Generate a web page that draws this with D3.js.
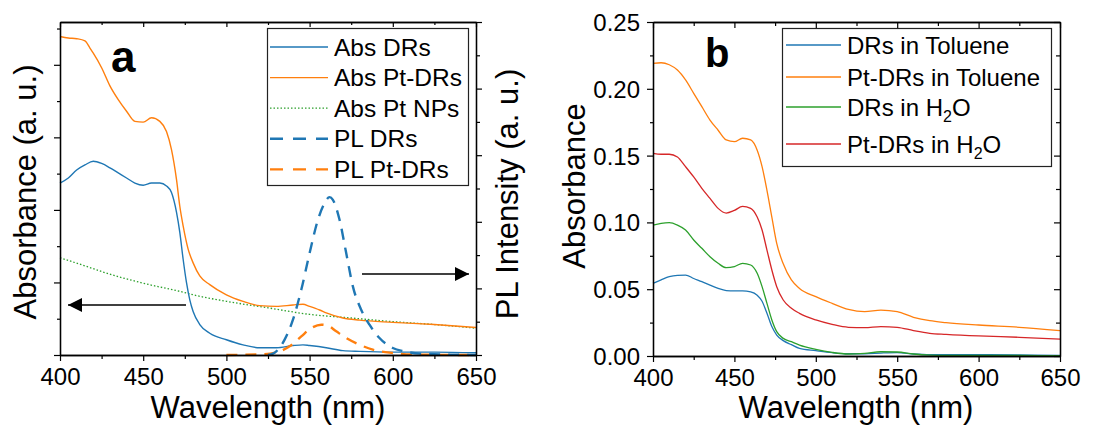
<!DOCTYPE html>
<html>
<head>
<meta charset="utf-8">
<script src="https://cdn.jsdelivr.net/npm/d3@7"></script>
<style>
  body { margin: 0; background: #fff; }
  svg text { font-family: "Liberation Sans", Arial, sans-serif; fill: #000; }
</style>
</head>
<body>
<svg id="fig" width="1093" height="430"></svg>
<script>
// ---- panel a data (left axis = absorbance a.u., right axis = PL a.u.) ----
const absDRsWl   = [400,405,410,415,420,425,430,435,440,445,450,455,460,464,467,470,472,474,476,478,480,484,490,500,510,520,530,540,546,550,560,570,580,600,625,650];
const absDRs     = [2.37,2.44,2.55,2.62,2.67,2.64,2.58,2.51,2.44,2.37,2.34,2.37,2.37,2.33,2.24,1.97,1.69,1.32,1.00,0.76,0.60,0.42,0.30,0.21,0.14,0.10,0.10,0.13,0.14,0.13,0.10,0.06,0.05,0.04,0.04,0.03];
const absPtDRsWl = [400,405,410,415,418,420,425,430,435,440,445,450,455,460,464,467,470,472,474,477,480,484,490,500,510,520,530,540,546,550,556,560,570,580,600,625,650];
const absPtDRs   = [4.39,4.37,4.36,4.33,4.23,4.16,3.96,3.71,3.52,3.36,3.22,3.21,3.27,3.22,3.08,2.83,2.42,2.05,1.78,1.46,1.27,1.09,0.97,0.83,0.74,0.68,0.67,0.69,0.70,0.67,0.62,0.58,0.51,0.48,0.45,0.42,0.38];
const absPtWl    = [400,420,425,450,475,480,500,525,550,575,600,625,650];
const absPt      = [1.34,1.19,1.15,0.99,0.86,0.83,0.74,0.65,0.56,0.51,0.46,0.42,0.37];
const plDRsWl    = [525,528,530,535,540,545,550,555,559,562,564,568,572,576,581,586,592,600,607,616,650];
const plDRs      = [0,0.02,0.055,0.23,0.53,0.98,1.53,2.03,2.28,2.37,2.33,2.03,1.53,1.03,0.68,0.455,0.255,0.105,0.055,0.02,0];
const plPtDRsWl  = [500,520,530,538,545,551,557,561,566,572,580,588,600,616,650];
const plPtDRs    = [0,0.01,0.04,0.13,0.28,0.405,0.455,0.44,0.355,0.255,0.155,0.08,0.03,0.005,0];

// ---- panel b data ----
const bWl      = [400,405,410,415,420,425,430,435,440,445,450,455,460,464,467,470,473,476,480,485,490,500,510,520,530,540,550,560,570,580,600,625,650];
const drsTol   = [0.0544,0.057,0.0594,0.0604,0.0606,0.058,0.0556,0.053,0.0506,0.049,0.0487,0.0487,0.048,0.0455,0.041,0.032,0.022,0.0157,0.0115,0.0085,0.0057,0.004,0.0025,0.0017,0.0017,0.0022,0.0025,0.0015,0.001,0.001,0.001,0.0008,0.0005];
const ptDrsTol = [0.219,0.2195,0.218,0.214,0.2066,0.1966,0.1866,0.1766,0.169,0.1617,0.1604,0.163,0.1617,0.154,0.1417,0.124,0.104,0.0843,0.069,0.0569,0.0506,0.0444,0.0394,0.0349,0.0332,0.0344,0.0332,0.029,0.0264,0.025,0.0232,0.0215,0.019];
const drsH2O   = [0.098,0.0993,0.0998,0.098,0.0943,0.0868,0.0806,0.0743,0.0694,0.0661,0.0669,0.0694,0.0681,0.0619,0.0519,0.0394,0.027,0.0182,0.0132,0.0107,0.0082,0.005,0.0027,0.0015,0.002,0.0032,0.003,0.0015,0.0007,0.0005,0.0005,0.0004,0.0003];
const ptDrsH2O = [0.1517,0.151,0.151,0.149,0.1417,0.134,0.1255,0.118,0.1105,0.107,0.109,0.112,0.1105,0.104,0.0943,0.0793,0.0644,0.0519,0.0419,0.0357,0.0319,0.027,0.0237,0.0215,0.0212,0.022,0.0215,0.019,0.017,0.0162,0.015,0.014,0.0127];

const xTicks = [400,450,500,550,600,650];
const xMinor = [425,475,525,575,625];
const bYTicks = [0,0.05,0.10,0.15,0.20,0.25];
const bYMinor = [0.025,0.075,0.125,0.175,0.225];

const C = {blue: "#1f77b4", orange: "#ff7f0e", green: "#2ca02c", red: "#d62728"};
const svg = d3.select("#fig");

function axis(g, gen, vals, size, fmt) {
  const a = gen.tickValues(vals).tickSize(size).tickSizeOuter(0);
  if (fmt) a.tickFormat(fmt).tickPadding(7); else a.tickFormat("");
  g.call(a);
  g.selectAll("path.domain").attr("stroke", "#000").attr("stroke-width", 1.3);
  g.selectAll(".tick line").attr("stroke", "#000").attr("stroke-width", 1.2);
  g.selectAll(".tick text").style("font-size", "24px").attr("font-family", null);
  g.attr("font-family", null).attr("font-size", null);
}

function curve(g, xs, x, y, wl, vals, color, dash, w) {
  const pts = wl.map((d, i) => [d, vals[i]]);
  g.append("path").datum(pts)
    .attr("fill", "none").attr("stroke", color).attr("stroke-width", w)
    .attr("stroke-dasharray", dash)
    .attr("d", d3.line().x(d => x(d[0])).y(d => y(d[1])).curve(d3.curveMonotoneX));
}

// ================= panel a =================
const xa = d3.scaleLinear([400, 650], [60, 476]);
const ya = d3.scaleLinear([0, 4.59], [355, 22]);
const ypl = d3.scaleLinear([0, 5], [355, 22]);
const ga = svg.append("g");

curve(ga, null, xa, ya, absPtWl, absPt, C.green, "1.5,2", 1.3);
curve(ga, null, xa, ya, absDRsWl, absDRs, C.blue, null, 1.4);
curve(ga, null, xa, ya, absPtDRsWl, absPtDRs, C.orange, null, 1.4);
curve(ga, null, xa, ypl, plPtDRsWl, plPtDRs, C.orange, "11,8", 2.4);
curve(ga, null, xa, ypl, plDRsWl, plDRs, C.blue, "11,8", 2.4);

axis(ga.append("g").attr("transform", "translate(0,355)"), d3.axisBottom(xa), xTicks, 6, d3.format("d"));
axis(ga.append("g").attr("transform", "translate(0,355)"), d3.axisBottom(xa), xMinor, 4);
axis(ga.append("g").attr("transform", "translate(0,22)"), d3.axisTop(xa), xTicks, -5);
axis(ga.append("g").attr("transform", "translate(0,22)"), d3.axisTop(xa), xMinor, -3);
axis(ga.append("g").attr("transform", "translate(60,0)"), d3.axisLeft(ya), [0,1,2,3,4], 6);
axis(ga.append("g").attr("transform", "translate(60,0)"), d3.axisLeft(ya), [0.5,1.5,2.5,3.5,4.5], 3);
axis(ga.append("g").attr("transform", "translate(476,0)"), d3.axisRight(ypl), [0,1,2,3,4,5], 6);
axis(ga.append("g").attr("transform", "translate(476,0)"), d3.axisRight(ypl), [0.5,1.5,2.5,3.5,4.5], 4);

// arrows
svg.append("defs").append("marker").attr("id", "ah")
  .attr("viewBox", "0 0 10 10").attr("refX", 10).attr("refY", 5)
  .attr("markerWidth", 18).attr("markerHeight", 14).attr("markerUnits", "userSpaceOnUse")
  .attr("orient", "auto")
  .append("path").attr("d", "M0,0 L10,5 L0,10 Z").attr("fill", "#000");
ga.append("line").attr("x1", 186).attr("y1", 305).attr("x2", 68).attr("y2", 305)
  .attr("stroke", "#000").attr("stroke-width", 1.4).attr("marker-end", "url(#ah)");
ga.append("line").attr("x1", 362).attr("y1", 274).attr("x2", 469).attr("y2", 274)
  .attr("stroke", "#000").attr("stroke-width", 1.4).attr("marker-end", "url(#ah)");

ga.append("text").attr("x", 111).attr("y", 72).style("font-size", "44px").style("font-weight", "bold").text("a");

// legend a
const legA = [
  {t: "Abs DRs", c: C.blue, d: null, w: 1.4},
  {t: "Abs Pt-DRs", c: C.orange, d: null, w: 1.4},
  {t: "Abs Pt NPs", c: C.green, d: "1.5,2", w: 1.3},
  {t: "PL DRs", c: C.blue, d: "13,10", w: 2.4},
  {t: "PL Pt-DRs", c: C.orange, d: "13,10", w: 2.4}
];
ga.append("rect").attr("x", 267.5).attr("y", 28.5).attr("width", 201).attr("height", 157)
  .attr("fill", "#fff").attr("stroke", "#222").attr("stroke-width", 1.2);
legA.forEach((e, i) => {
  const ly = 47 + i * 30.6;
  ga.append("line").attr("x1", 270).attr("x2", 328).attr("y1", ly).attr("y2", ly)
    .attr("stroke", e.c).attr("stroke-width", e.w).attr("stroke-dasharray", e.d);
  ga.append("text").attr("x", 334).attr("y", ly + 8.5).style("font-size", "24.5px").text(e.t);
});

// titles a
ga.append("text").attr("x", 268).attr("y", 418).attr("text-anchor", "middle").style("font-size", "31px").text("Wavelength (nm)");
ga.append("text").attr("transform", "translate(36,192) rotate(-90)").attr("text-anchor", "middle").style("font-size", "31px").text("Absorbance (a. u.)");
ga.append("text").attr("transform", "translate(518,194) rotate(-90)").attr("text-anchor", "middle").style("font-size", "31px").text("PL Intensity (a. u.)");

// ================= panel b =================
const xb = d3.scaleLinear([400, 650], [653, 1060]);
const yb = d3.scaleLinear([0, 0.25], [356, 22]);
const gb = svg.append("g");

curve(gb, null, xb, yb, bWl, drsTol, C.blue, null, 1.3);
curve(gb, null, xb, yb, bWl, drsH2O, C.green, null, 1.3);
curve(gb, null, xb, yb, bWl, ptDrsH2O, C.red, null, 1.3);
curve(gb, null, xb, yb, bWl, ptDrsTol, C.orange, null, 1.3);

axis(gb.append("g").attr("transform", "translate(0,356)"), d3.axisBottom(xb), xTicks, 6, d3.format("d"));
axis(gb.append("g").attr("transform", "translate(0,356)"), d3.axisBottom(xb), xMinor, 4);
axis(gb.append("g").attr("transform", "translate(0,22)"), d3.axisTop(xb), xTicks, -6);
axis(gb.append("g").attr("transform", "translate(0,22)"), d3.axisTop(xb), xMinor, -4);
axis(gb.append("g").attr("transform", "translate(653,0)"), d3.axisLeft(yb), bYTicks, 6, d3.format(".2f"));
axis(gb.append("g").attr("transform", "translate(653,0)"), d3.axisLeft(yb), bYMinor, 3);
axis(gb.append("g").attr("transform", "translate(1060,0)"), d3.axisRight(yb), bYTicks, -6);
axis(gb.append("g").attr("transform", "translate(1060,0)"), d3.axisRight(yb), bYMinor, -4);
gb.selectAll(".tick text").filter(function () { return this.textContent.startsWith("0."); }).attr("dy", "0.35em");

gb.append("text").attr("x", 705).attr("y", 67).style("font-size", "40px").style("font-weight", "bold").text("b");

// legend b
const legB = [
  {t: "DRs in Toluene", c: C.blue, ly: 45},
  {t: "Pt-DRs in Toluene", c: C.orange, ly: 77},
  {t: "DRs in H|O", c: C.green, ly: 107},
  {t: "Pt-DRs in H|O", c: C.red, ly: 144}
];
gb.append("rect").attr("x", 782.5).attr("y", 28.5).attr("width", 269).attr("height", 138)
  .attr("fill", "#fff").attr("stroke", "#222").attr("stroke-width", 1.2);
legB.forEach(e => {
  gb.append("line").attr("x1", 786).attr("x2", 841).attr("y1", e.ly).attr("y2", e.ly)
    .attr("stroke", e.c).attr("stroke-width", 1.4);
  const t = gb.append("text").attr("x", 847).attr("y", e.ly + 9).style("font-size", "24px");
  const parts = e.t.split("|");
  t.append("tspan").text(parts[0]);
  if (parts.length > 1) {
    t.append("tspan").attr("dy", 6).style("font-size", "16px").text("2");
    t.append("tspan").attr("dy", -6).text(parts[1]);
  }
});

gb.append("text").attr("x", 856).attr("y", 418).attr("text-anchor", "middle").style("font-size", "31px").text("Wavelength (nm)");
gb.append("text").attr("transform", "translate(585,186) rotate(-90)").attr("text-anchor", "middle").style("font-size", "31px").text("Absorbance");
</script>
</body>
</html>
